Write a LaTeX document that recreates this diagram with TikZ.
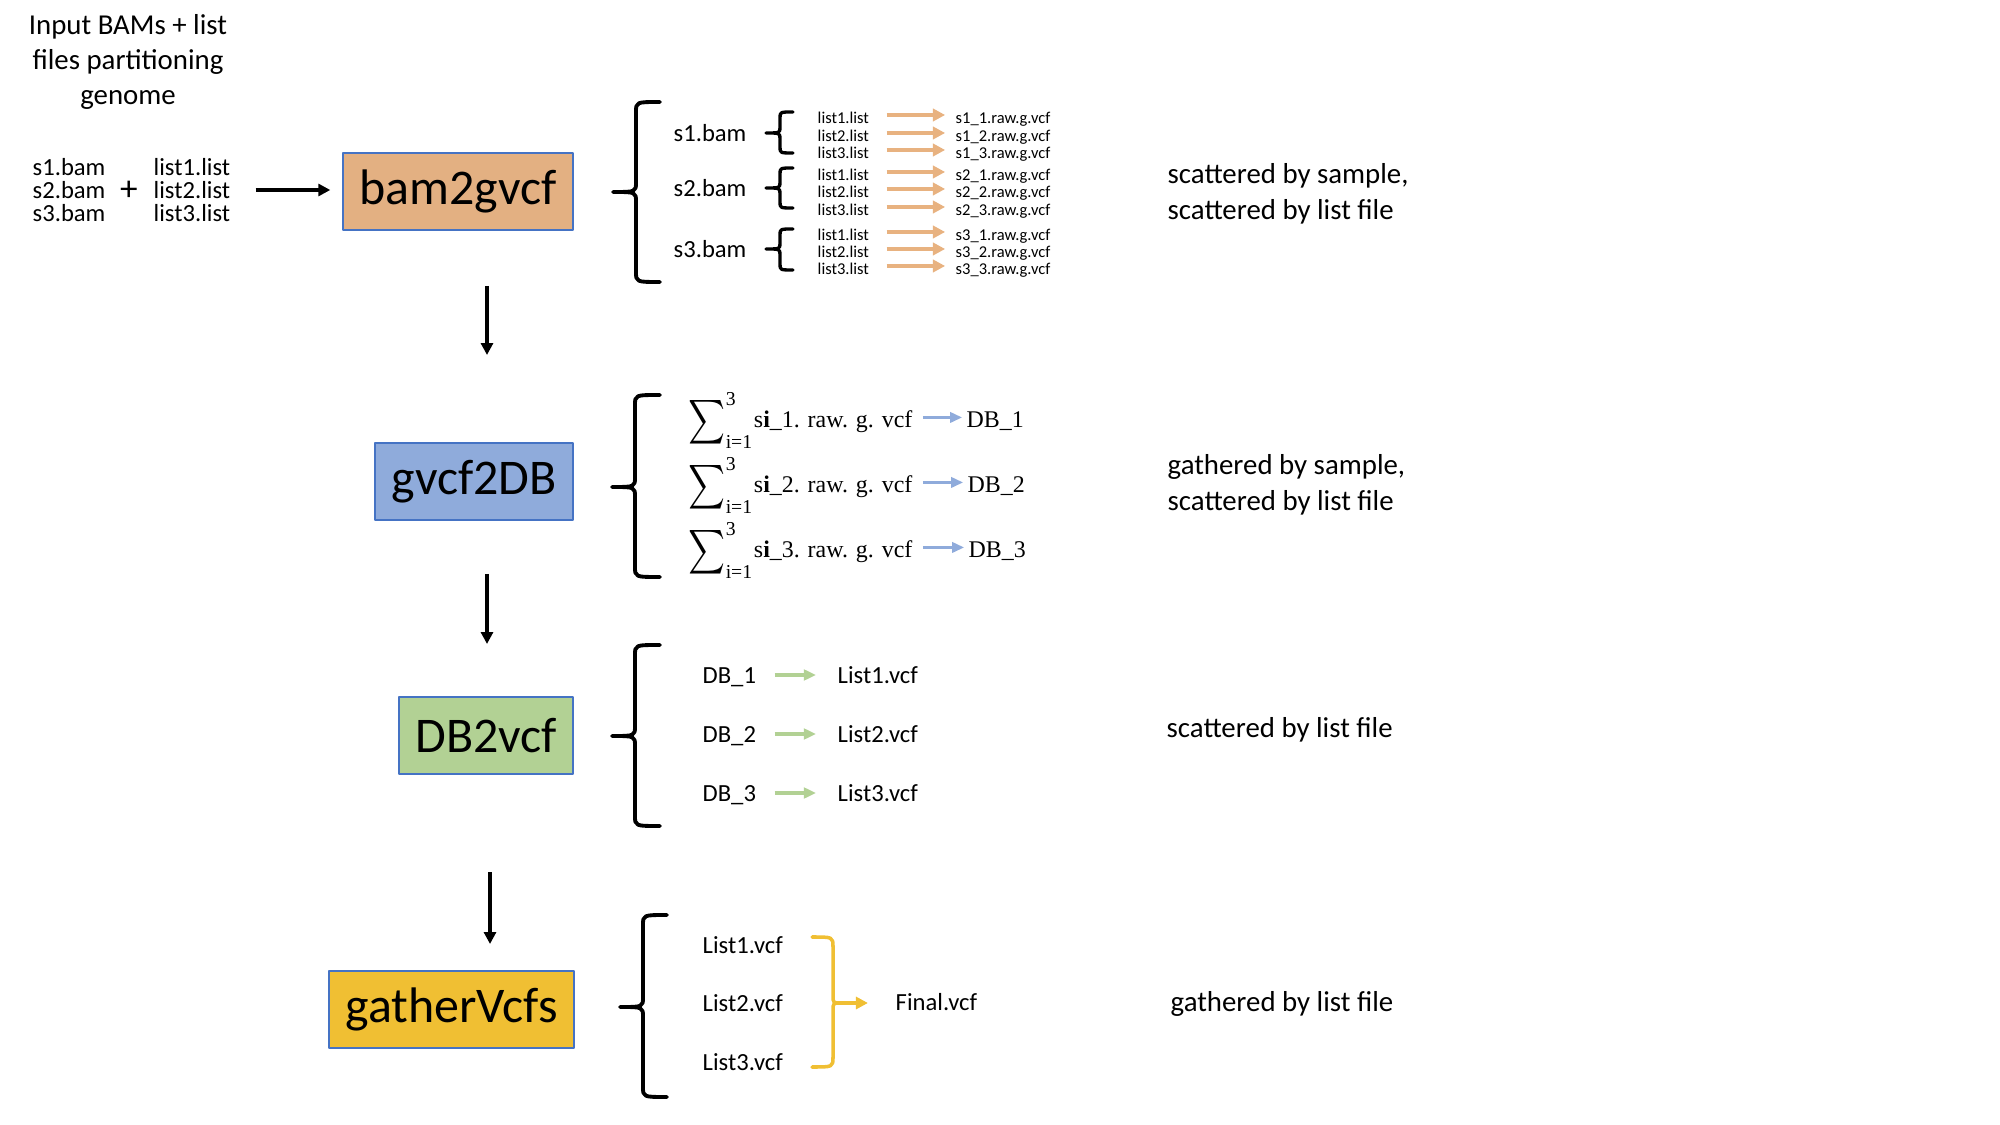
\documentclass[tikz,border=0pt]{standalone}
\usepackage{amsmath,amssymb}
\usepackage[no-math]{fontspec}
\setmainfont{Carlito}
\newfontfamily\cmbr{Liberation Serif}
\usetikzlibrary{arrows.meta}
\definecolor{ggbbxx}{rgb}{0.89,0.69,0.51}
\definecolor{ggbbuu}{rgb}{0.91,0.70,0.50}
\definecolor{xxaadd}{rgb}{0.56,0.67,0.86}
\definecolor{aaddxx}{rgb}{0.70,0.82,0.58}
\definecolor{ffccqq}{rgb}{0.94,0.75,0.20}
\definecolor{qqxxcc}{rgb}{0.27,0.45,0.77}

\begin{document}
\begin{tikzpicture}[line cap=round,line join=round,>={Triangle[length=3.4pt,width=3.4pt]},x=0.01cm,y=-0.01cm,
  stage/.style={draw=qqxxcc,line width=0.5pt,anchor=east,inner sep=0pt,minimum height=21.9pt,font=\fontsize{14.2}{17}\selectfont},
  txt/.style={anchor=mid west,inner sep=0pt,font=\fontsize{7}{8.4}\selectfont},
  tinytxt/.style={anchor=mid west,inner sep=0pt,font=\fontsize{4.7}{5.6}\selectfont},
  mtxt/.style={anchor=base west,inner sep=0pt,font=\fontsize{6.8}{8}\selectfont\cmbr},
  note/.style={anchor=west,inner sep=0pt,align=left,font=\fontsize{8.2}{10.2}\selectfont},
  brc/.style={line width=1.1pt},
  karr/.style={->,line cap=butt,line width=1pt},
  oarr/.style={-{Triangle[length=3.5pt,width=3.5pt]},line cap=butt,line width=1.15pt,color=ggbbuu,shorten <=4.8pt,shorten >=2.8pt},
  barr/.style={-{Triangle[length=3.4pt,width=2.9pt]},line cap=butt,line width=0.8pt,color=xxaadd,shorten <=2.8pt,shorten >=1.1pt},
  garr/.style={-{Triangle[length=3.4pt,width=3pt]},line cap=butt,line width=0.95pt,color=aaddxx,shorten <=5.1pt,shorten >=6pt},
  yarr/.style={->,line cap=butt,line width=1.15pt,color=ffccqq,shorten >=7.7pt}]
\useasboundingbox (0,0) rectangle (2000,1125);
% inputs
\node[align=center,inner sep=0pt,font=\fontsize{8.2}{10}\selectfont] (hdr) at (128,62) {Input BAMs + list\\files partitioning\\genome};
\node[txt,anchor=west,align=left,font=\fontsize{7}{6.6}\selectfont] (bams) at (32,190) {s1.bam\\s2.bam\\s3.bam};
\node[inner sep=0pt,font=\fontsize{10}{10}\selectfont] (plus) at (129,191) {+};
\node[txt,anchor=west,align=left,font=\fontsize{7}{6.6}\selectfont] (lists) at (153,190) {list1.list\\list2.list\\list3.list};
% stages
\node[stage,fill=ggbbxx,minimum width=65.4pt] (b1) at (574,191.5) {bam2gvcf};
\node[stage,fill=xxaadd,minimum width=56.3pt] (b2) at (574,481.5) {gvcf2DB};
\node[stage,fill=aaddxx,minimum width=49.5pt] (b3) at (574,735.5) {DB2vcf};
\node[stage,fill=ffccqq,minimum width=69.7pt] (b4) at (575,1009.5) {gatherVcfs};
\draw[karr,shorten <=7pt,shorten >=3.4pt] (lists.east) -- (lists.east -| b1.west);
\coordinate (d1a) at (487,286);
\coordinate (d1b) at (487,355);
\coordinate (d2a) at (487,574);
\coordinate (d2b) at (487,644);
\coordinate (d3a) at (490,872);
\coordinate (d3b) at (490,944);
\draw[karr] (d1a) -- (d1b);
\draw[karr] (d2a) -- (d2b);
\draw[karr] (d3a) -- (d3b);
% big braces
\draw[brc] (660,102) .. controls (636,102) .. (636,112) -- (636,182) .. controls (636,192) .. (613,192) .. controls (636,192) .. (636,202) -- (636,272) .. controls (636,282) .. (660,282);
\draw[brc] (660,395) .. controls (635,395) .. (635,405) -- (635,477) .. controls (635,487) .. (612,487) .. controls (635,487) .. (635,497) -- (635,567) .. controls (635,577) .. (660,577);
\draw[brc] (660,645) .. controls (635,645) .. (635,655) -- (635,726) .. controls (635,736) .. (612,736) .. controls (635,736) .. (635,746) -- (635,816) .. controls (635,826) .. (660,826);
\draw[brc] (667,915) .. controls (643,915) .. (643,925) -- (643,997) .. controls (643,1007) .. (620,1007) .. controls (643,1007) .. (643,1017) -- (643,1087) .. controls (643,1097) .. (667,1097);
% bam2gvcf
\node[txt] (s1) at (673,133) {s1.bam};
\node[txt] (s2) at (673,188) {s2.bam};
\node[txt] (s3) at (673,249) {s3.bam};
\draw[brc,line width=0.95pt] (793,112) .. controls (780,112) .. (780,118) -- (780,127) .. controls (780,133) .. (766,133) .. controls (780,133) .. (780,139) -- (780,147) .. controls (780,153) .. (793,153);
\draw[brc,line width=0.95pt] (793,168) .. controls (780,168) .. (780,174) -- (780,182) .. controls (780,188) .. (766,188) .. controls (780,188) .. (780,194) -- (780,202) .. controls (780,208) .. (793,208);
\draw[brc,line width=0.95pt] (793,229) .. controls (780,229) .. (780,235) -- (780,243) .. controls (780,249) .. (766,249) .. controls (780,249) .. (780,255) -- (780,264) .. controls (780,270) .. (793,270);
\node[tinytxt] (l11) at (817,115) {list1.list};
\node[tinytxt] (l12) at (817,133) {list2.list};
\node[tinytxt] (l13) at (817,150) {list3.list};
\node[tinytxt] (l21) at (817,172) {list1.list};
\node[tinytxt] (l22) at (817,189) {list2.list};
\node[tinytxt] (l23) at (817,207) {list3.list};
\node[tinytxt] (l31) at (817,232) {list1.list};
\node[tinytxt] (l32) at (817,249) {list2.list};
\node[tinytxt] (l33) at (817,266) {list3.list};
\node[tinytxt] (v11) at (955,115) {s1\_1.raw.g.vcf};
\node[tinytxt] (v12) at (955,133) {s1\_2.raw.g.vcf};
\node[tinytxt] (v13) at (955,150) {s1\_3.raw.g.vcf};
\node[tinytxt] (v21) at (955,172) {s2\_1.raw.g.vcf};
\node[tinytxt] (v22) at (955,189) {s2\_2.raw.g.vcf};
\node[tinytxt] (v23) at (955,207) {s2\_3.raw.g.vcf};
\node[tinytxt] (v31) at (955,232) {s3\_1.raw.g.vcf};
\node[tinytxt] (v32) at (955,249) {s3\_2.raw.g.vcf};
\node[tinytxt] (v33) at (955,266) {s3\_3.raw.g.vcf};
\draw[oarr] (l11.mid east) -- (v11.mid west);
\draw[oarr] (l12.mid east) -- (v12.mid west);
\draw[oarr] (l13.mid east) -- (v13.mid west);
\draw[oarr] (l21.mid east) -- (v21.mid west);
\draw[oarr] (l22.mid east) -- (v22.mid west);
\draw[oarr] (l23.mid east) -- (v23.mid west);
\draw[oarr] (l31.mid east) -- (v31.mid west);
\draw[oarr] (l32.mid east) -- (v32.mid west);
\draw[oarr] (l33.mid east) -- (v33.mid west);
% gvcf2DB
\node[mtxt] (g1) at (688,428) {$\mathop{\vcenter{\hbox{\scalebox{0.95}[1.3]{$\displaystyle\sum$}}}}\nolimits_{\text{\fontsize{5.6}{6}\selectfont i=1}}^{\text{\fontsize{5.6}{6}\selectfont 3}}$s\textbf{i}\_1. raw. g. vcf};
\node[mtxt] (g2) at (688,493) {$\mathop{\vcenter{\hbox{\scalebox{0.95}[1.3]{$\displaystyle\sum$}}}}\nolimits_{\text{\fontsize{5.6}{6}\selectfont i=1}}^{\text{\fontsize{5.6}{6}\selectfont 3}}$s\textbf{i}\_2. raw. g. vcf};
\node[mtxt] (g3) at (688,558) {$\mathop{\vcenter{\hbox{\scalebox{0.95}[1.3]{$\displaystyle\sum$}}}}\nolimits_{\text{\fontsize{5.6}{6}\selectfont i=1}}^{\text{\fontsize{5.6}{6}\selectfont 3}}$s\textbf{i}\_3. raw. g. vcf};
\node[mtxt] (db1) at (966,428) {DB\_1};
\node[mtxt] (db2) at (967,493) {DB\_2};
\node[mtxt] (db3) at (968,558) {DB\_3};
\draw[barr] ([yshift=3pt]g1.base east) -- ([yshift=3pt]db1.base west);
\draw[barr] ([yshift=3pt]g2.base east) -- ([yshift=3pt]db2.base west);
\draw[barr] ([yshift=3pt]g3.base east) -- ([yshift=3pt]db3.base west);
% DB2vcf
\node[txt] (k1) at (702,675) {DB\_1};
\node[txt] (k2) at (702,734) {DB\_2};
\node[txt] (k3) at (702,793) {DB\_3};
\node[txt] (m1) at (837,675) {List1.vcf};
\node[txt] (m2) at (837,734) {List2.vcf};
\node[txt] (m3) at (837,793) {List3.vcf};
\draw[garr] (k1.mid east) -- (m1.mid west);
\draw[garr] (k2.mid east) -- (m2.mid west);
\draw[garr] (k3.mid east) -- (m3.mid west);
% gatherVcfs
\node[txt] (n1) at (702,945) {List1.vcf};
\node[txt] (n2) at (702,1003) {List2.vcf};
\node[txt] (n3) at (702,1062) {List3.vcf};
\draw[line width=1pt,color=ffccqq] (812,937) .. controls (833,937) .. (833,947) -- (833,995) .. controls (833,1003) .. (841,1003);
\draw[line width=1pt,color=ffccqq] (812,1067) .. controls (833,1067) .. (833,1057) -- (833,1011) .. controls (833,1003) .. (841,1003);
\coordinate (yb) at (833,1003);
\node[txt] (fin) at (895,1002) {Final.vcf};
\draw[yarr] (yb) -- (yb -| fin.mid west);
% notes
\node[note] (t1) at (1167,194) {scattered by sample,\\scattered by list file};
\node[note] (t2) at (1167,485) {gathered by sample,\\scattered by list file};
\node[note] (t3) at (1166,730) {scattered by list file};
\node[note] (t4) at (1170,1004) {gathered by list file};
\end{tikzpicture}
\end{document}
